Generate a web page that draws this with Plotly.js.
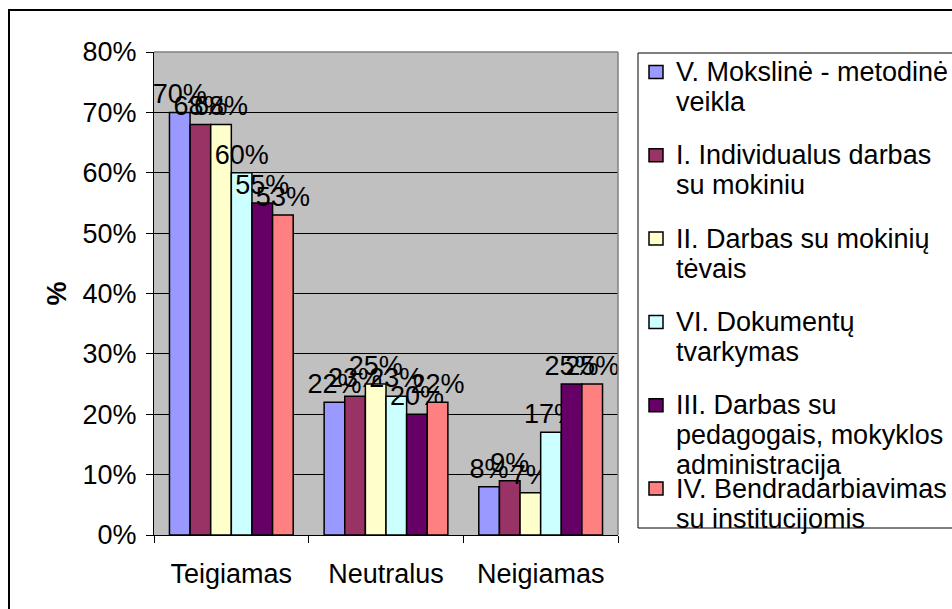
<!DOCTYPE html>
<html>
<head>
<meta charset="utf-8">
<script src="https://cdn.plot.ly/plotly-3.0.1.min.js"></script>
<style>
html,body{margin:0;padding:0;background:#fff;overflow:hidden;}
#chart{width:952px;height:609px;}
</style>
</head>
<body>
<div id="chart"></div>
<script>
// ---- data ----
const categories = ['Teigiamas', 'Neutralus', 'Neigiamas'];
const seriesNames = [
  'V. Mokslinė - metodinė<br>veikla',
  'I. Individualus darbas<br>su mokiniu',
  'II. Darbas su mokinių<br>tėvais',
  'VI. Dokumentų<br>tvarkymas',
  'III. Darbas su<br>pedagogais, mokyklos<br>administracija',
  'IV. Bendradarbiavimas<br>su institucijomis'
];
const seriesColors = ['#9999FF', '#993366', '#FFFFCC', '#CCFFFF', '#660066', '#FF8080'];
const valuesV   = [70, 22, 8];
const valuesI   = [68, 23, 9];
const valuesII  = [68, 25, 7];
const valuesVI  = [60, 23, 17];
const valuesIII = [55, 20, 25];
const valuesIV  = [53, 22, 25];
const yTickVals = [0, 10, 20, 30, 40, 50, 60, 70, 80];
const yAxisTitle = '%';

const seriesValues = [valuesV, valuesI, valuesII, valuesVI, valuesIII, valuesIV];
const FONT = 'Liberation Sans, Arial, sans-serif';
const FS = 27;

// plot area geometry (pixels)
const W = 952, H = 609;
const L = 154, R = 618, T = 52, B = 535;
const px = x => (x - L) / (R - L);
const py = y => (B - y) / (B - T);

const traces = seriesValues.map((vals, i) => ({
  type: 'bar',
  name: seriesNames[i].replace(/<br>/g, ' '),
  x: categories,
  y: vals,
  text: vals.map(v => v + '%'),
  textposition: 'outside',
  constraintext: 'none',
  cliponaxis: false,
  textfont: {family: FONT, size: FS, color: '#000'},
  marker: {color: seriesColors[i], line: {color: '#000', width: 1.5}},
  hoverinfo: 'skip'
}));

const shapes = [];
const annotations = [];

// plot area top/right border (gray)
shapes.push({type: 'line', xref: 'paper', yref: 'paper', x0: 0, x1: 1, y0: 1, y1: 1, line: {color: '#808080', width: 1.5}});
shapes.push({type: 'line', xref: 'paper', yref: 'paper', x0: 1, x1: 1, y0: 0, y1: 1, line: {color: '#808080', width: 1.5}});

// outer chart border
shapes.push({type: 'rect', xref: 'paper', yref: 'paper',
  x0: px(9), x1: px(970), y0: py(630), y1: py(10),
  line: {color: '#000', width: 2}, fillcolor: 'rgba(0,0,0,0)'});

// legend box
shapes.push({type: 'rect', xref: 'paper', yref: 'paper',
  x0: px(638), x1: px(970), y0: py(528), y1: py(53),
  line: {color: '#000', width: 1}, fillcolor: 'rgba(0,0,0,0)'});

// legend entries
const entryTop = 72, entryStep = 83.3, lineStep = 30;
seriesNames.forEach((name, i) => {
  const yc = entryTop + i * entryStep;
  shapes.push({type: 'rect', xref: 'paper', yref: 'paper',
    xsizemode: 'pixel', ysizemode: 'pixel',
    xanchor: px(656), yanchor: py(yc),
    x0: -7, x1: 7, y0: -6.5, y1: 6.5,
    fillcolor: seriesColors[i], line: {color: '#000', width: 1.5}});
  name.split('<br>').forEach((line, j) => {
    annotations.push({xref: 'paper', yref: 'paper',
      x: px(674), y: py(yc + j * lineStep),
      xanchor: 'left', yanchor: 'middle', showarrow: false,
      text: line, font: {family: FONT, size: FS, color: '#000'}});
  });
});

const layout = {
  width: W, height: H,
  margin: {l: L, r: W - R, t: T, b: H - B, pad: 0},
  paper_bgcolor: '#ffffff',
  plot_bgcolor: '#C0C0C0',
  showlegend: false,
  barmode: 'group',
  bargap: 0.2,
  bargroupgap: 0,
  font: {family: FONT, size: FS, color: '#000'},
  xaxis: {
    type: 'category',
    showline: true, linecolor: '#000', linewidth: 1,
    ticks: 'outside', tickson: 'boundaries', ticklen: 7, tickcolor: '#000', tickwidth: 1,
    ticklabelstandoff: 15,
    tickfont: {family: FONT, size: FS, color: '#000'},
    showgrid: false, zeroline: false, fixedrange: true
  },
  yaxis: {
    range: [0, 80],
    tickvals: yTickVals,
    ticktext: yTickVals.map(v => v + '%'),
    showline: true, linecolor: '#000', linewidth: 1,
    ticks: 'outside', ticklen: 7, tickcolor: '#000', tickwidth: 1,
    ticklabelstandoff: 4,
    tickfont: {family: FONT, size: FS, color: '#000'},
    showgrid: true, gridcolor: '#000', gridwidth: 1,
    zeroline: false, fixedrange: true,
    title: {text: '<b>' + yAxisTitle + '</b>', standoff: 8, font: {family: FONT, size: FS, color: '#000'}}
  },
  shapes: shapes,
  annotations: annotations
};

Plotly.newPlot('chart', traces, layout, {displayModeBar: false, staticPlot: true});
</script>
</body>
</html>
